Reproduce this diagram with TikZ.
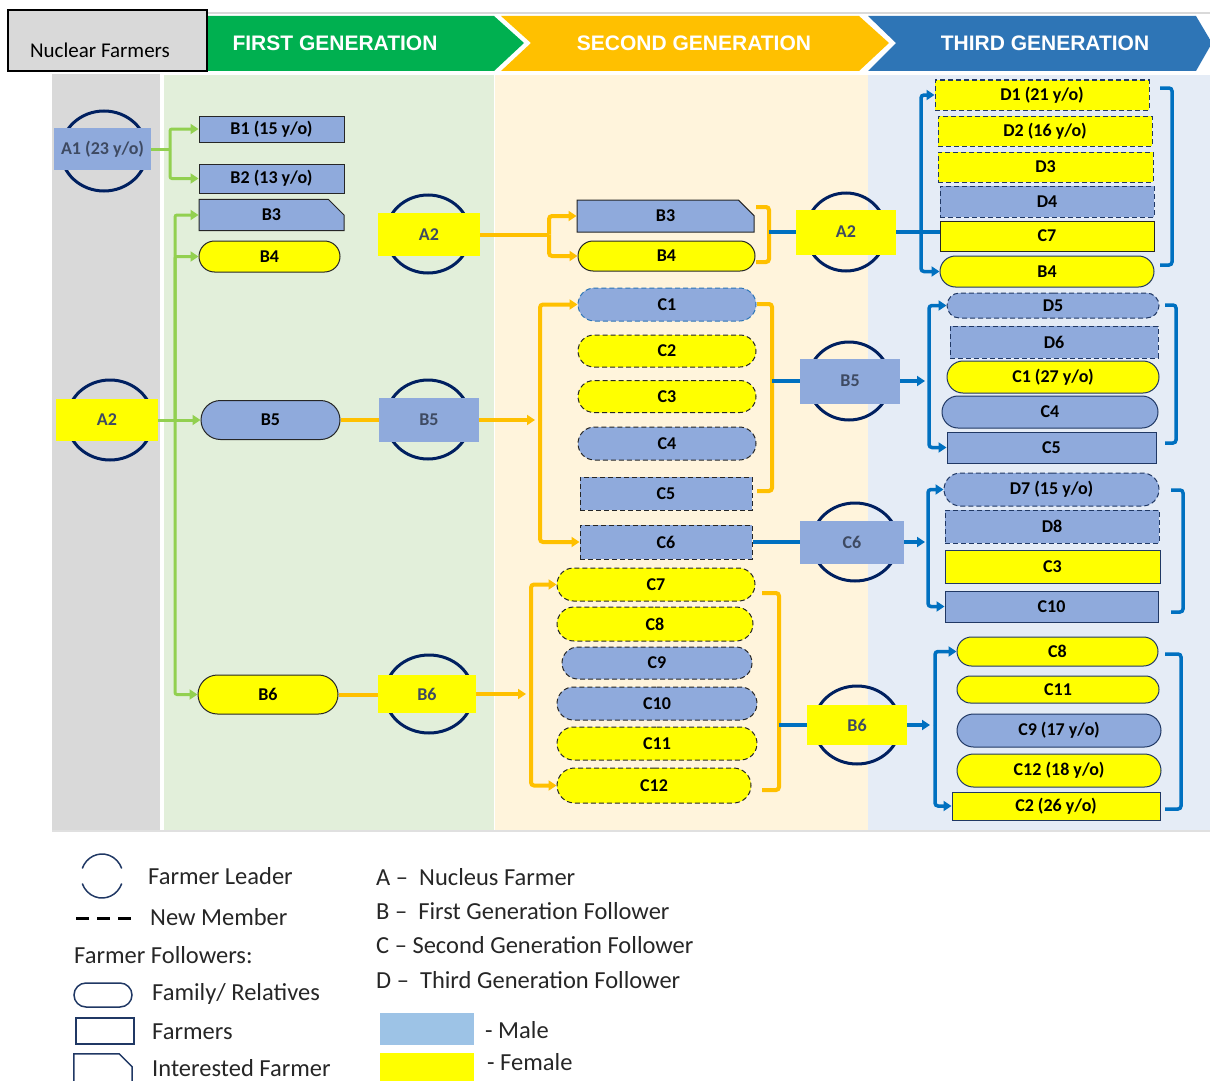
\documentclass[tikz,border=0pt]{standalone}
\usepackage{fontspec}
\setmainfont{Carlito}
\newfontfamily\hdfont{Liberation Sans}
\usetikzlibrary{arrows.meta,shapes.misc}
\definecolor{male}{HTML}{8FAADC}
\definecolor{female}{HTML}{FFFF00}
\definecolor{legm}{HTML}{9DC3E6}
\definecolor{navy}{HTML}{002060}
\definecolor{bnavy}{HTML}{203864}
\definecolor{lgreen}{HTML}{92D050}
\definecolor{lorange}{HTML}{FFC000}
\definecolor{lblue}{HTML}{0070C0}
\definecolor{hgreen}{HTML}{00B050}
\definecolor{hblue}{HTML}{2E75B6}
\definecolor{bggray}{HTML}{D9D9D9}
\definecolor{bggreen}{HTML}{E2EFDA}
\definecolor{bgcream}{HTML}{FFF4DC}
\definecolor{bgblue}{HTML}{E5ECF6}
\definecolor{ldtext}{HTML}{3E4A62}

\begin{document}
\begin{tikzpicture}[x=1pt, y=-1pt,
    every node/.style={font=\fontsize{18}{21}\selectfont\bfseries, inner sep=0pt},
    sz/.style 2 args={minimum width=#1pt, minimum height=#2pt},
    mal/.style={fill=male}, fem/.style={fill=female},
    pill/.style={rounded rectangle},
    intr/.style={chamfered rectangle, chamfered rectangle corners=north east, chamfered rectangle xsep=12pt, chamfered rectangle ysep=12pt},
    nd/.style={draw=black!85, line width=1pt},
    nv/.style={draw=bnavy, line width=1pt},
    nw/.style={dash pattern=on 5pt off 3pt},
    lead/.style={text=ldtext},
    ring/.style={draw=navy, line width=3pt},
    gl/.style={draw=lgreen, line width=3pt, rounded corners=2pt},
    ga/.style={gl, -{Triangle[length=8pt, width=10pt]}},
    ol/.style={draw=lorange, line width=4pt, rounded corners=3pt},
    oa/.style={ol, -{Triangle[length=8pt, width=10pt]}},
    bl/.style={draw=lblue, line width=3.5pt, rounded corners=3pt},
    ba/.style={bl, -{Triangle[length=8pt, width=10pt]}},
    hd/.style={font=\hdfont\bfseries\fontsize{21}{24}\selectfont, text=white},
    lg/.style={font=\fontsize{24.5}{28}\selectfont, anchor=west, text=black!85}]
\useasboundingbox (0,0) rectangle (1210,1081);

\fill[bggray] (52,74) rectangle (160,830);
\fill[bggreen] (164,75) rectangle (494,830);
\fill[bgcream] (495,75) rectangle (868,830);
\fill[bgblue] (868,75) rectangle (1210,830);
\draw[black!12, line width=1.5pt] (52,831) -- (1210,831);
\draw[black!15, line width=2pt] (205,13) -- (1210,13);

\fill[hblue] (868,16) -- (1196,16) -- (1212,43) -- (1196,71) -- (868,71) -- (896,43) -- cycle;
\fill[lorange] (501,16) -- (859,16) -- (889,43) -- (859,71) -- (501,71) -- (531,43) -- cycle;
\fill[hgreen] (207,16) -- (494,16) -- (524,43) -- (494,71) -- (207,71) -- cycle;
\node[hd] (h1) at (335,43) {FIRST GENERATION};
\node[hd] (h2) at (694,43) {SECOND GENERATION};
\node[hd] (h3) at (1045,43) {THIRD GENERATION};
\draw[fill=bggray, line width=1.2pt] (8,10) rectangle (207,71);
\node[font=\fontsize{21}{24}\selectfont] (nf) at (100,50) {Nuclear Farmers};

\draw[ring] (104,151) ellipse (43 and 40);
\node[lead,mal,sz={97}{42}] (a1) at (102.5,149) {A1 (23 y/o)};
\draw[ring] (110,420) ellipse (43 and 40);
\node[lead,fem,sz={102}{42}] (a2) at (107,420) {A2};

\node[mal,nd,sz={145}{26}] (b1) at (271.5,129) {B1 (15 y/o)};
\node[mal,nd,sz={145}{29}] (b2) at (271.5,178.5) {B2 (13 y/o)};
\node[mal,nd,intr,sz={145}{24}] (b3) at (271.5,215) {B3};
\node[fem,nd,pill,sz={141}{31}] (b4) at (269.5,256.5) {B4};
\node[mal,nd,pill,sz={139}{39}] (b5) at (270.5,420) {B5};
\node[fem,nd,pill,sz={140}{39}] (b6) at (268,694.5) {B6};

\draw[ring] (428,234) ellipse (42 and 39);
\node[lead,fem,sz={102}{43}] (la2) at (429,234.5) {A2};
\draw[ring] (428,419.5) ellipse (42 and 39.5);
\node[lead,mal,sz={100}{44}] (lb5) at (429,420) {B5};
\draw[ring] (429,694) ellipse (44 and 39);
\node[lead,fem,sz={98}{38}] (lb6) at (427,694) {B6};

\node[mal,nd,intr,sz={177}{32}] (sb3) at (665.5,216) {B3};
\node[fem,nd,pill,sz={177}{30}] (sb4) at (666.5,256) {B4};
\node[mal,pill,nw,draw=hblue,line width=1pt,sz={178}{33}] (sc1) at (667,304.5) {C1};
\node[fem,nd,nw,pill,sz={178}{32}] (sc2) at (667,351) {C2};
\node[fem,nd,nw,pill,sz={178}{32}] (sc3) at (667,396.5) {C3};
\node[mal,nd,nw,pill,sz={178}{33}] (sc4) at (667,443.5) {C4};
\node[mal,nd,nw,sz={172}{33}] (sc5) at (666,493.5) {C5};
\node[mal,nd,nw,sz={172}{34}] (sc6) at (666,542) {C6};
\node[fem,nd,nw,pill,sz={198}{33}] (sc7) at (656,584.5) {C7};
\node[fem,nd,nw,pill,sz={196}{34}] (sc8) at (655,624) {C8};
\node[mal,nd,nw,pill,sz={190}{32}] (sc9) at (657,663) {C9};
\node[mal,nd,nw,pill,sz={200}{33}] (sc10) at (657,703.5) {C10};
\node[fem,nd,nw,pill,sz={200}{33}] (sc11) at (657,743.5) {C11};
\node[fem,nd,nw,pill,sz={194}{35}] (sc12) at (654,785.5) {C12};

\draw[ring] (846,232) ellipse (40 and 39);
\node[lead,fem,sz={100}{45}] (ma2) at (846,232) {A2};
\draw[ring] (849,381) ellipse (41 and 39);
\node[lead,mal,sz={100}{45}] (mb5) at (850,381) {B5};
\draw[ring] (855,542) ellipse (43 and 39);
\node[lead,mal,sz={104}{43}] (mc6) at (852,542) {C6};
\draw[ring] (857,725) ellipse (43 and 39);
\node[lead,fem,sz={100}{40}] (mb6) at (857,725) {B6};

\node[fem,nv,nw,sz={214}{30}] (td1) at (1042,95) {D1 (21 y/o)};
\node[fem,nv,nw,sz={214}{30}] (td2) at (1045,131) {D2 (16 y/o)};
\node[fem,nv,nw,sz={215}{30}] (td3) at (1045.5,167) {D3};
\node[mal,nv,nw,sz={214}{31}] (td4) at (1047,201.5) {D4};
\node[fem,nd,sz={214}{30}] (tc7) at (1047,236) {C7};
\node[fem,nv,pill,sz={214}{31}] (tb4) at (1047,271.5) {B4};
\node[mal,nv,nw,pill,sz={212}{25}] (td5) at (1053,305.5) {D5};
\node[mal,nv,nw,sz={208}{32}] (td6) at (1054,342) {D6};
\node[fem,nv,pill,sz={212}{32}] (tc1) at (1053,377) {C1 (27 y/o)};
\node[mal,nv,pill,sz={216}{32}] (tc4) at (1050,412) {C4};
\node[mal,nv,sz={209}{31}] (tc5) at (1051.5,447.5) {C5};
\node[mal,nv,nw,pill,sz={215}{33}] (td7) at (1051.5,489.5) {D7 (15 y/o)};
\node[mal,nv,nw,sz={214}{33}] (td8) at (1052,526.5) {D8};
\node[fem,nv,sz={215}{33}] (tc3) at (1052.5,566.5) {C3};
\node[mal,nv,sz={213}{31}] (tc10) at (1051.5,606.5) {C10};
\node[fem,nv,pill,sz={201}{29}] (tc8) at (1057.5,651.5) {C8};
\node[fem,nv,pill,sz={202}{27}] (tc11) at (1058,689.5) {C11};
\node[mal,nv,pill,sz={204}{33}] (tc9) at (1059,730.5) {C9 (17 y/o)};
\node[fem,nv,pill,sz={204}{33}] (tc12) at (1059,770.5) {C12 (18 y/o)};
\node[fem,nv,sz={208}{28}] (tc2) at (1056,806) {C2 (26 y/o)};

\draw[gl] (a1.east) -- (170,149) coordinate (ga1);
\draw[ga] (ga1) |- (b1.west);
\draw[ga] (ga1) |- (b2.west);
\draw[ga] (a2.east) -- (b5.west);
\coordinate (ga2) at (175,420);
\draw[ga] (ga2) |- (b3.west);
\draw[ga] (ga2) |- (b4.west);
\draw[ga] (ga2) |- (b6.west);

\draw[ol] (la2.east) -- (549,234.5) coordinate (oa2);
\draw[oa] (oa2) |- (sb3.west);
\draw[oa] (oa2) |- (sb4.west);
\draw[ol] (b5.east) -- (lb5.west);
\draw[oa] (lb5.east) -- (535,420);
\coordinate (ob5) at (540,420);
\draw[oa] (ob5) |- (sc1.west);
\draw[oa] (ob5) |- (sc6.west);
\draw[ol] (b6.east) -- (b6.east -| lb6.west);
\draw[oa] (lb6.east) -- (526,694);
\coordinate (ob6) at (531,694);
\draw[oa] (ob6) |- (sc7.west);
\draw[oa] (ob6) |- (sc12.west);
\draw[ol] (756,207) -| (769,262) -- (756,262);
\draw[ol] (757,304) -| (772,491) -- (757,491);
\draw[ol] (762,593) -| (779,790) -- (762,790);
\coordinate (ka2) at (769,232);
\coordinate (kb5) at (772,381);
\coordinate (kb6) at (779,725);

\draw[bl] (ka2) -- (ma2.west);
\draw[bl] (ma2.east) -- (ma2.east -| tc7.west);
\coordinate (ba2) at (921,232);
\draw[ba] (ba2) |- (td1.west);
\draw[ba] (ba2) |- (tb4.west);
\draw[bl] (1160,88) -| (1172,265) -- (1160,265);
\draw[bl] (kb5) -- (mb5.west);
\draw[ba] (mb5.east) -- (925,381);
\coordinate (bb5) at (929,381);
\draw[ba] (bb5) |- (td5.west);
\draw[ba] (bb5) |- (tc5.west);
\draw[bl] (1165,305) -| (1176,443) -- (1165,443);
\draw[bl] (sc6.east) -- (mc6.west);
\draw[ba] (mc6.east) -- (925,542);
\coordinate (bc6) at (928,542);
\draw[ba] (bc6) |- (td7.west);
\draw[ba] (bc6) |- (tc10.west);
\draw[bl] (1171,490) -| (1183,612) -- (1171,612);
\draw[bl] (kb6) -- (mb6.west);
\draw[ba] (mb6.east) -- (930,725);
\coordinate (bb6) at (935,725);
\draw[ba] (bb6) |- (tc8.west);
\draw[ba] (bb6) |- (tc2.west);
\draw[bl] (1165,654) -| (1181,809) -- (1165,809);

\draw[bnavy, line width=1.5pt] (102,876) ++(200:21 and 22) arc[start angle=200, end angle=340, x radius=21, y radius=22];
\draw[bnavy, line width=1.5pt] (102,876) ++(20:21 and 22) arc[start angle=20, end angle=160, x radius=21, y radius=22];
\node[lg] (lg1) at (148,876) {Farmer Leader};
\draw[black, line width=3pt, dash pattern=on 13pt off 8pt] (76,918) -- (134,918);
\node[lg] (lg2) at (150,917) {New Member};
\node[lg] (lg3) at (74,955) {Farmer Followers:};
\node[pill, draw=bnavy, line width=1.5pt, sz={58}{24}] (lgp) at (103,995) {};
\node[lg] (lg4) at (152,994) {Family/ Relatives};
\node[draw=bnavy, line width=1.5pt, sz={58}{26}] (lgr) at (105,1031) {};
\node[lg] (lg5) at (152,1032) {Farmers};
\node[sz={58}{28}] (lgi) at (103,1068) {};
\draw[bnavy, line width=1.5pt] (lgi.south west) -- (lgi.north west) -- ([xshift=-13pt]lgi.north east) -- ([yshift=-13pt]lgi.north east) -- (lgi.south east);
\node[lg] (lg6) at (152,1068) {Interested Farmer};
\node[lg] (lgA) at (376,877) {A –\ \ Nucleus Farmer};
\node[lg] (lgB) at (376,911) {B –\ \ First Generation Follower};
\node[lg] (lgC) at (376,945) {C – Second Generation Follower};
\node[lg] (lgD) at (376,980) {D –\ \ Third Generation Follower};
\fill[legm] (380,1013) rectangle (474,1045);
\node[lg] (lgm) at (485,1030) {- Male};
\fill[female] (380,1053) rectangle (474,1081);
\node[lg] (lgf) at (487,1062) {- Female};
\end{tikzpicture}
\end{document}
